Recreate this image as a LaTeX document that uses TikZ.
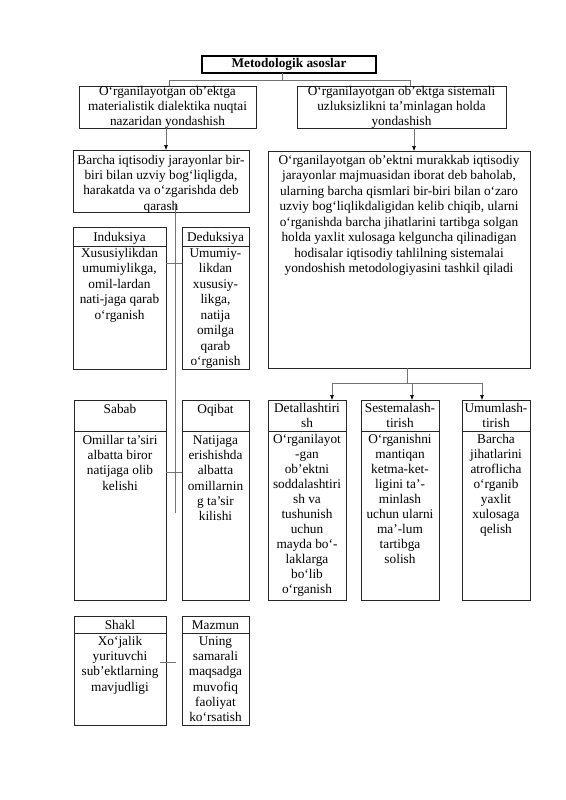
\documentclass[tikz,border=0pt]{standalone}
\usepackage{fontspec}
\setmainfont{Liberation Serif}
\usetikzlibrary{arrows.meta}
\tikzset{
  box/.style={draw=black!85, line width=0.6pt, rectangle, inner sep=0pt, outer sep=0pt, anchor=north west},
  tbox/.style={draw=black!85, line width=0.6pt, rectangle, inner sep=0pt, outer sep=0pt, align=center,
    font=\fontsize{13.3}{15}\selectfont},
  txt/.style={inner sep=0pt, anchor=north, align=center, font=\fontsize{13.3}{15.3}\selectfont},
  txtc/.style={inner sep=0pt, anchor=north, align=center, font=\fontsize{13.3}{15.5}\selectfont},
  txtd/.style={inner sep=0pt, anchor=north, align=center, font=\fontsize{13.3}{15}\selectfont},
  txtb/.style={inner sep=0pt, anchor=north, align=center, font=\fontsize{13.3}{15.5}\selectfont},
  sep/.style={draw=black!85, line width=0.6pt},
  conn/.style={draw=black!55, line width=0.6pt},
  arr/.style={conn, -{Latex[length=5pt,width=4pt,color=black]}},
}
\begin{document}
\begin{tikzpicture}[x=1pt,y=-1pt]
\fill[white] (0,0) rectangle (565,800);
\useasboundingbox (0,0) rectangle (565,800);

% top
\node[tbox, line width=1.1pt, draw=black, minimum width=174pt, minimum height=17pt] (tb) at (289,64.5) {\textbf{Metodologik asoslar}};

\node[tbox, minimum width=177pt, minimum height=42pt, anchor=north west] (L1) at (79,86)
  {O‘rganilayotgan ob’ektga\\materialistik dialektika nuqtai\\nazaridan yondashish};
\node[tbox, minimum width=209pt, minimum height=42pt, anchor=north west] (R1) at (297,86)
  {O‘rganilayotgan ob’ektga sistemali\\uzluksizlikni ta’minlagan holda\\yondashish};

\coordinate (j0) at (282,80);
\coordinate (jl) at (169,80);
\coordinate (jr) at (410,80);
\draw[conn] (tb.south -| j0) -- (j0);
\draw[conn] (L1.north -| jl) -- (jl) -- (jr) -- (R1.north -| jr);

% second row
\node[box, minimum width=176pt, minimum height=62pt] (barcha) at (73,150) {};
\node[txt] (barchat) at (161,153.3) {\strut Barcha iqtisodiy jarayonlar bir-\\biri bilan uzviy bog‘liqligda,\\harakatda va o‘zgarishda deb\\qarash};

\node[box, minimum width=262pt, minimum height=217pt] (big) at (268,151) {};
\node[txtb] (bigt) at (399,153.2) {\strut O‘rganilayotgan ob’ektni murakkab iqtisodiy\\jarayonlar majmuasidan iborat deb baholab,\\ularning barcha qismlari bir-biri bilan o‘zaro\\uzviy bog‘liqlikdaligidan kelib chiqib, ularni\\o‘rganishda barcha jihatlarini tartibga solgan\\holda yaxlit xulosaga kelguncha qilinadigan\\hodisalar iqtisodiy tahlilning sistemalai\\yondoshish metodologiyasini tashkil qiladi};

\coordinate (al) at (166,0);
\coordinate (ar) at (414,0);
\draw[arr] (L1.south -| al) -- (barcha.north -| al);
\draw[arr] (R1.south -| ar) -- (big.north -| ar);

% induksiya / deduksiya
\node[box, minimum width=93pt, minimum height=142pt] (ind) at (73,227) {};
\draw[sep] (ind.west |- 0,246) -- (ind.east |- 0,246);
\node[txtc] (indh) at (119.5,230.3) {\strut Induksiya};
\node[txtc] (indb) at (119.5,246.3) {\strut Xususiylikdan\\umumiylikga,\\omil-lardan\\nati-jaga qarab\\o‘rganish};

\node[box, minimum width=67pt, minimum height=142pt] (ded) at (182,227) {};
\draw[sep] (ded.west |- 0,246) -- (ded.east |- 0,246);
\node[txtc] (dedh) at (215.5,230.3) {\strut Deduksiya};
\node[txtc] (dedb) at (215.5,246.3) {\strut Umumiy-\\likdan\\xususiy-\\likga,\\natija\\omilga\\qarab\\o‘rganish};

\coordinate (vtop) at (175,203);
\coordinate (vbot) at (175,513);
\draw[conn] (vtop) -- (vbot);
\draw[conn] (ind.east |- 0,263) -- (ded.west |- 0,263);

% sabab / oqibat
\node[box, minimum width=92pt, minimum height=200pt] (sab) at (74,400) {};
\draw[sep] (sab.west |- 0,431) -- (sab.east |- 0,431);
\node[txt] (sabh) at (120,402.3) {\strut Sabab};
\node[txt] (sabb) at (120,433.3) {\strut Omillar ta’siri\\albatta biror\\natijaga olib\\kelishi};

\node[box, minimum width=67pt, minimum height=200pt] (oqi) at (182,400) {};
\draw[sep] (oqi.west |- 0,431) -- (oqi.east |- 0,431);
\node[txt] (oqih) at (215.5,402.3) {\strut Oqibat};
\node[txt] (oqib) at (215.5,433.3) {\strut Natijaga\\erishishda\\albatta\\omillarnin\\g ta’sir\\kilishi};

\draw[conn] (sab.east |- 0,472) -- (oqi.west |- 0,472);

% three right columns
\node[box, minimum width=78pt, minimum height=200pt] (det) at (268,400) {};
\draw[sep] (det.west |- 0,431) -- (det.east |- 0,431);
\node[txtd] (deth) at (307,401.5) {\strut Detallashtiri\\sh};
\node[txtd] (detb) at (307,432.5) {\strut O‘rganilayot\\-gan\\ob’ektni\\soddalashtiri\\sh va\\tushunish\\uchun\\mayda bo‘-\\laklarga\\bo‘lib\\o‘rganish};

\node[box, minimum width=78pt, minimum height=200pt] (ses) at (361,400) {};
\draw[sep] (ses.west |- 0,431) -- (ses.east |- 0,431);
\node[txtd] (sesh) at (400,401.5) {\strut Sestemalash-\\tirish};
\node[txtd] (sesb) at (400,432.5) {\strut O‘rganishni\\mantiqan\\ketma-ket-\\ligini ta’-\\minlash\\uchun ularni\\ma’-lum\\tartibga\\solish};

\node[box, minimum width=68pt, minimum height=200pt] (umu) at (462,400) {};
\draw[sep] (umu.west |- 0,431) -- (umu.east |- 0,431);
\node[txtd] (umuh) at (496,401.5) {\strut Umumlash-\\tirish};
\node[txtd] (umub) at (496,432.5) {\strut Barcha\\jihatlarini\\atroflicha\\o‘rganib\\yaxlit\\xulosaga\\qelish};

\coordinate (b0) at (407,383);
\coordinate (b1) at (332,383);
\coordinate (b2) at (412,383);
\coordinate (b3) at (482,383);
\draw[conn] (big.south -| b0) -- (b0);
\draw[conn] (b1) -- (b3);
\draw[arr] (b1) -- (det.north -| b1);
\draw[arr] (b2) -- (ses.north -| b2);
\draw[arr] (b3) -- (umu.north -| b3);

% shakl / mazmun
\node[box, minimum width=92pt, minimum height=109pt] (sha) at (74,616) {};
\draw[sep] (sha.west |- 0,633) -- (sha.east |- 0,633);
\node[txt] (shah) at (120,618.3) {\strut Shakl};
\node[txt] (shab) at (120,634.3) {\strut Xo‘jalik\\yurituvchi\\sub’ektlarning\\mavjudligi};

\node[box, minimum width=67pt, minimum height=109pt] (maz) at (182,616) {};
\draw[sep] (maz.west |- 0,633) -- (maz.east |- 0,633);
\node[txt] (mazh) at (215.5,618.3) {\strut Mazmun};
\node[txt] (mazb) at (215.5,634.3) {\strut Uning\\samarali\\maqsadga\\muvofiq\\faoliyat\\ko‘rsatish};

\coordinate (s0) at (160,662);
\coordinate (s1) at (176,662);
\draw[conn] (s0) -- (s1);
\end{tikzpicture}
\end{document}
